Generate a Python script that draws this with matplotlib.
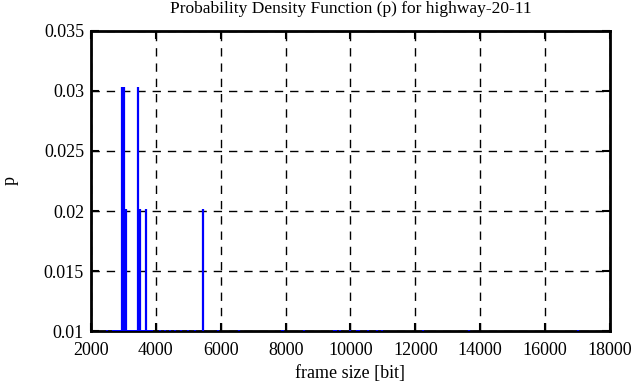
import matplotlib
matplotlib.use("Agg")
import matplotlib.pyplot as plt
from matplotlib.ticker import FuncFormatter

# frame sizes [bit] and probability
big_x = [2956, 3017, 3449]
big_p = [0.0303, 0.0303, 0.0303]
mid_x = [3079, 3510, 3696, 5453]
mid_p = [0.0202, 0.0202, 0.0202, 0.0202]
small_x = [2493, 2680, 2740, 2800, 2860, 2920, 3100, 3160, 3220, 3280, 3340,
           3400, 3560, 3620, 3760, 3820, 3880, 4127, 4281, 4436, 4590, 4775,
           4990, 5206, 5915, 6563, 7889, 7919, 8567, 9492, 9553, 9677, 9985,
           10201, 10262, 10540, 10817, 10971, 12235, 13654, 17014]
small_p = [0.0101] * len(small_x)

xticks = [2000, 4000, 6000, 8000, 10000, 12000, 14000, 16000, 18000]
yticks = [0.01, 0.015, 0.02, 0.025, 0.03, 0.035]

plt.rcParams['font.family'] = ['Liberation Serif', 'DejaVu Serif']

fig = plt.figure(figsize=(6.36, 3.87), dpi=100)
ax = fig.add_axes([0.1431, 0.1447, 0.816, 0.7752])

xs = small_x + mid_x + big_x
ps = small_p + mid_p + big_p
ax.vlines(xs, 0.01, ps, colors='#0000ff', linewidth=1.6, zorder=6)

ax.set_xlim(2000, 18000)
ax.set_ylim(0.01, 0.035)
ax.set_xticks(xticks)
ax.set_yticks(yticks)
ax.xaxis.set_major_formatter(FuncFormatter(lambda v, p: '%d' % v))
ax.yaxis.set_major_formatter(FuncFormatter(lambda v, p: '%g' % round(v, 4)))
ax.grid(True, color='black', linestyle=(0, (6, 5)), linewidth=1.0)
ax.tick_params(direction='in', length=6, width=1.5, top=True, right=True,
               labelsize=13, colors='black')
ax.tick_params(axis='x', pad=8)
ax.tick_params(axis='y', pad=5)
for s in ax.spines.values():
    s.set_linewidth(2)
    s.set_zorder(5)

ax.set_title('Probability Density Function (p) for highway-20-11', fontsize=12.5, pad=13)
ax.set_xlabel('frame size [bit]', fontsize=13, labelpad=4)
ax.set_ylabel('p', fontsize=13, labelpad=18)

fig.savefig('out.png', dpi=100)
